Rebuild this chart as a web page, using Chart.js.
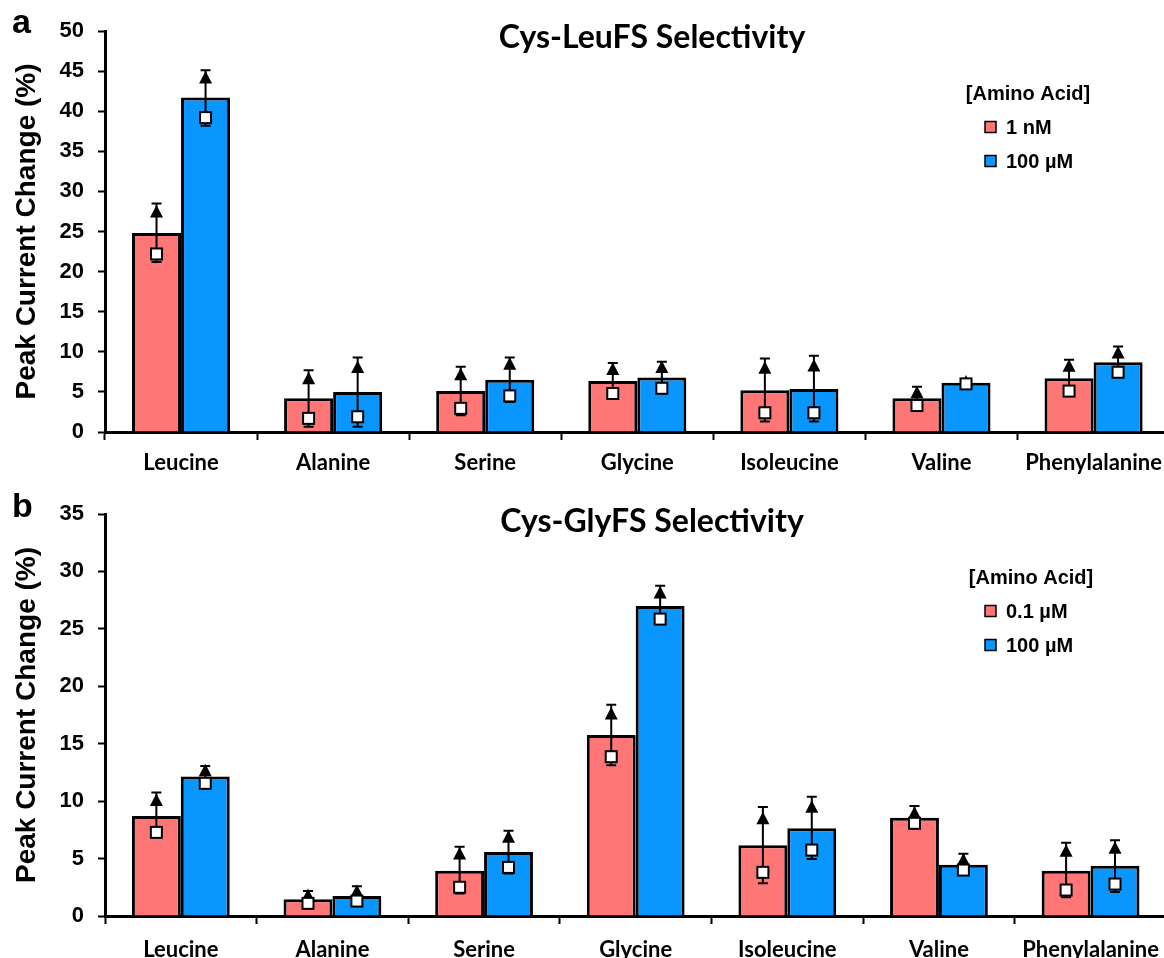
<!DOCTYPE html>
<html>
<head>
<meta charset="utf-8">
<script src="https://cdn.jsdelivr.net/npm/chart.js@4.4.0/dist/chart.umd.min.js"></script>
<style>
html, body { margin: 0; padding: 0; background: #fff; overflow: hidden; }
#wrap { width: 1164px; height: 958px; overflow: hidden; position: relative; }
.panel { position: absolute; left: 0; width: 1172px; }
</style>
</head>
<body>
<div id="wrap">
  <div class="panel" style="top:0;height:480px"><canvas id="chart_a"></canvas></div>
  <div class="panel" style="top:480px;height:478px"><canvas id="chart_b"></canvas></div>
</div>
<script>
const aminoAcids = ['Leucine', 'Alanine', 'Serine', 'Glycine', 'Isoleucine', 'Valine', 'Phenylalanine'];
const cores = ['#FF7676', '#0A96FF'];

// panel a - Cys-LeuFS, bars = mean, triangle / square = the two runs
const leuLabels = ['1 nM', '100 µM'];
const leuLow = [24.8, 4.2, 5.1, 6.35, 5.2, 4.2, 6.7];
const leuHigh = [41.7, 5.0, 6.5, 6.8, 5.35, 6.15, 8.7];
const leuLowTri = [27.5, 6.7, 7.2, 7.85, 8.0, 4.95, 8.25];
const leuLowTriErr = [1.0, 1.0, 0.95, 0.75, 1.15, 0.7, 0.75];
const leuLowSq = [22.2, 1.7, 2.95, 4.8, 2.4, 3.3, 5.1];
const leuLowSqErr = [1.0, 1.05, 0.85, 0.3, 1.08, 0.2, 0.3];
const leuHighTri = [44.2, 8.1, 8.5, 8.1, 8.3, 6.3, 9.9];
const leuHighTriErr = [0.9, 1.2, 0.8, 0.65, 1.2, 0.25, 0.75];
const leuHighSq = [39.2, 1.9, 4.5, 5.45, 2.4, 6.0, 7.45];
const leuHighSqErr = [1.0, 1.25, 0.75, 0.3, 1.1, 0.2, 0.3];

// panel b - Cys-GlyFS
const glyLabels = ['0.1 µM', '100 µM'];
const glyLow = [8.7, 1.45, 3.95, 15.75, 6.15, 8.55, 3.95];
const glyHigh = [12.15, 1.75, 5.57, 27.0, 7.65, 4.47, 4.37];
const glyLowTri = [10.1, 1.83, 5.45, 17.64, 8.5, 9.0, 5.68];
const glyLowTriErr = [0.65, 0.35, 0.58, 0.76, 1.0, 0.57, 0.7];
const glyLowSq = [7.28, 1.1, 2.5, 13.87, 3.8, 8.07, 2.26];
const glyLowSqErr = [0.38, 0.2, 0.55, 0.75, 0.95, 0.2, 0.63];
const glyHighTri = [12.7, 2.18, 6.9, 28.16, 9.51, 4.93, 5.94];
const glyHighTriErr = [0.35, 0.4, 0.52, 0.6, 0.87, 0.5, 0.66];
const glyHighSq = [11.55, 1.3, 4.23, 25.85, 5.74, 4.0, 2.78];
const glyHighSqErr = [0.3, 0.2, 0.53, 0.3, 0.78, 0.2, 0.68];

const ARIAL = '"Liberation Sans", Arial, sans-serif';
const CALIBRI = 'Lato, "Open Sans", sans-serif';

// error bars, markers, title, legend and panel letter
const extrasPlugin = {
  id: 'extras',
  afterDatasetsDraw(chart, args, opts) {
    const ctx = chart.ctx;
    const y = chart.scales.y;
    ctx.save();
    chart.data.datasets.forEach((ds, d) => {
      const meta = chart.getDatasetMeta(d);
      meta.data.forEach((bar, j) => {
        const x = bar.x;
        const yTop = y.getPixelForValue(ds.tri[j] + ds.triErr[j]);
        const yBot = y.getPixelForValue(ds.sq[j] - ds.sqErr[j]);
        const yTri = y.getPixelForValue(ds.tri[j]);
        const ySq = y.getPixelForValue(ds.sq[j]);
        ctx.strokeStyle = '#000';
        ctx.lineWidth = 2;
        ctx.beginPath();
        ctx.moveTo(x, yBot); ctx.lineTo(x, yTop);
        ctx.moveTo(x - 5, yTop); ctx.lineTo(x + 5, yTop);
        ctx.moveTo(x - 5, yBot); ctx.lineTo(x + 5, yBot);
        ctx.stroke();
        // triangle
        ctx.fillStyle = '#000';
        ctx.beginPath();
        ctx.moveTo(x, yTri - 6.5);
        ctx.lineTo(x + 6.5, yTri + 6);
        ctx.lineTo(x - 6.5, yTri + 6);
        ctx.closePath();
        ctx.fill();
        // square
        ctx.fillStyle = '#fff';
        ctx.fillRect(x - 5.5, ySq - 5.5, 11, 11);
        ctx.strokeRect(x - 5.5, ySq - 5.5, 11, 11);
      });
    });

    // title
    ctx.fillStyle = '#000';
    ctx.textAlign = 'center';
    ctx.textBaseline = 'middle';
    ctx.font = 'bold 32px ' + CALIBRI;
    ctx.fillText(opts.title, 652, opts.titleY);

    // panel letter
    ctx.textAlign = 'left';
    ctx.textBaseline = 'alphabetic';
    ctx.font = 'bold 34px ' + ARIAL;
    ctx.fillText(opts.letter, 12, opts.letterY);

    // legend
    ctx.font = 'bold 20px ' + ARIAL;
    ctx.textAlign = 'center';
    ctx.textBaseline = 'middle';
    ctx.fillText('[Amino Acid]', opts.legendX, opts.legendY);
    ctx.textAlign = 'left';
    chart.data.datasets.forEach((ds, d) => {
      const ly = opts.legendY + 33 + d * 34;
      ctx.fillStyle = ds.backgroundColor;
      ctx.fillRect(985, ly - 5.5, 11, 11);
      ctx.strokeStyle = '#000';
      ctx.lineWidth = 1.5;
      ctx.strokeRect(985, ly - 5.5, 11, 11);
      ctx.fillStyle = '#000';
      ctx.fillText(ds.label, 1006, ly + 1);
    });
    ctx.restore();
  }
};

function makeChart(id, labels, low, high, markers, maxY, padTop, xHeight, xPad, extras) {
  const ctx = document.getElementById(id);
  return new Chart(ctx, {
    type: 'bar',
    data: {
      labels: aminoAcids,
      datasets: [
        {
          label: labels[0], data: low, backgroundColor: cores[0],
          borderColor: '#000', borderWidth: 3,
          tri: markers[0], triErr: markers[1], sq: markers[2], sqErr: markers[3]
        },
        {
          label: labels[1], data: high, backgroundColor: cores[1],
          borderColor: '#000', borderWidth: 3,
          tri: markers[4], triErr: markers[5], sq: markers[6], sqErr: markers[7]
        }
      ]
    },
    options: {
      responsive: true,
      maintainAspectRatio: false,
      animation: false,
      layout: { padding: { top: padTop, right: 0, left: 0, bottom: 0 } },
      datasets: { bar: { barPercentage: 1, categoryPercentage: 0.645 } },
      plugins: {
        legend: { display: false },
        tooltip: { enabled: false },
        extras: extras
      },
      scales: {
        x: {
          afterFit: s => { s.height = xHeight; },
          ticks: {
            color: '#000', padding: xPad, maxRotation: 0, autoSkip: false,
            font: { family: CALIBRI, weight: 'bold', size: 22 }
          },
          grid: { drawOnChartArea: false, tickLength: 8, tickWidth: 2, tickColor: '#000', offset: true },
          border: { color: '#000', width: 3 }
        },
        y: {
          min: 0, max: maxY,
          afterFit: s => { s.width = 105; },
          ticks: {
            stepSize: 5, color: '#000', padding: 14,
            font: { family: ARIAL, weight: 'bold', size: 22 }
          },
          grid: { drawOnChartArea: false, tickLength: 7, tickWidth: 2, tickColor: '#000' },
          border: { color: '#000', width: 3 },
          title: {
            display: true, text: 'Peak Current Change (%)', color: '#000',
            font: { family: ARIAL, weight: 'bold', size: 28 },
            padding: { top: 10, bottom: 0 }
          }
        }
      }
    },
    plugins: [extrasPlugin]
  });
}

makeChart('chart_a', leuLabels, leuLow, leuHigh,
  [leuLowTri, leuLowTriErr, leuLowSq, leuLowSqErr, leuHighTri, leuHighTriErr, leuHighSq, leuHighSqErr],
  50, 31, 48, 10,
  { title: 'Cys-LeuFS Selectivity', titleY: 38, letter: 'a', letterY: 33, legendX: 1028, legendY: 94 });

makeChart('chart_b', glyLabels, glyLow, glyHigh,
  [glyLowTri, glyLowTriErr, glyLowSq, glyLowSqErr, glyHighTri, glyHighTriErr, glyHighSq, glyHighSqErr],
  35, 34, 42, 13,
  { title: 'Cys-GlyFS Selectivity', titleY: 42, letter: 'b', letterY: 37, legendX: 1031, legendY: 98 });
</script>
</body>
</html>
